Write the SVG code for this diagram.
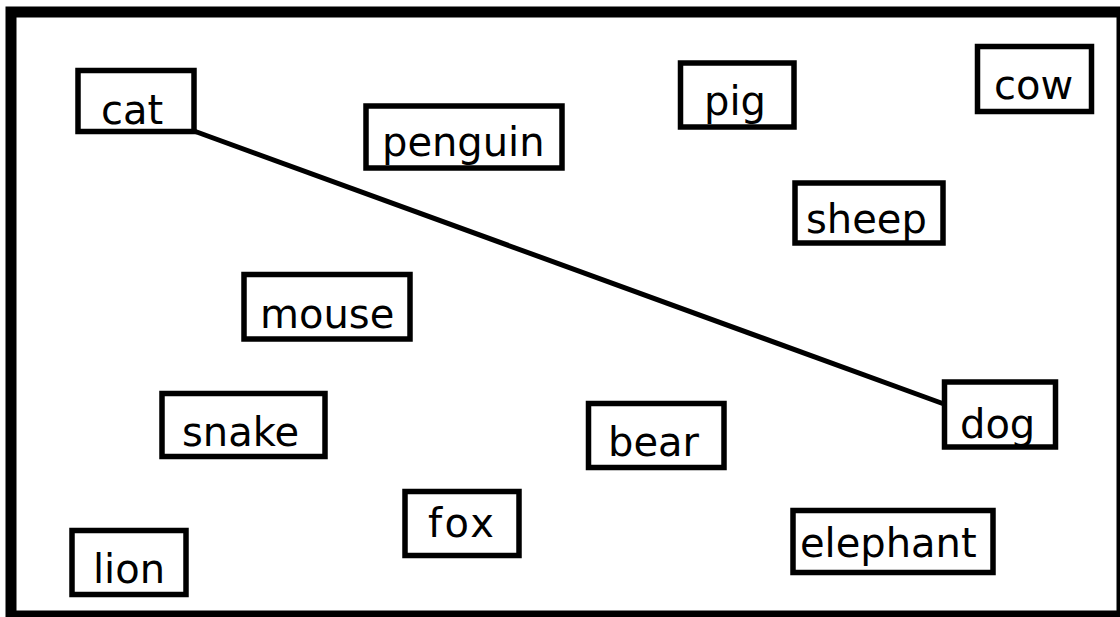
<svg xmlns="http://www.w3.org/2000/svg" width="1120" height="617" viewBox="0 0 1120 617">
  <style>
    .box { fill: #ffffff; stroke: #000000; stroke-width: 5.5; }
    .lbl { font-family: "DejaVu Sans", "Liberation Sans", sans-serif; font-size: 40px; fill: #000000; }
    .edge { stroke: #000000; stroke-width: 5; fill: none; }
  </style>
  <rect x="0" y="0" width="1120" height="617" fill="#ffffff"/>
  <rect id="frame" x="11" y="12" width="1111" height="604" fill="none" stroke="#000000" stroke-width="11"/>
  <g id="connectors">
    <line class="edge" x1="194" y1="131" x2="944" y2="404"/>
  </g>
  <g id="node-cat"><rect class="box" x="78" y="70.5" width="116" height="61"/><text class="lbl" x="101" y="124">cat</text></g>
  <g id="node-penguin"><rect class="box" x="366" y="106" width="196" height="62"/><text class="lbl" x="382" y="156">penguin</text></g>
  <g id="node-pig"><rect class="box" x="680.5" y="63" width="113.5" height="64"/><text class="lbl" x="704" y="115">pig</text></g>
  <g id="node-cow"><rect class="box" x="977.5" y="46.5" width="114" height="65"/><text class="lbl" x="994" y="99">cow</text></g>
  <g id="node-sheep"><rect class="box" x="795" y="183" width="148" height="60"/><text class="lbl" x="806" y="233">sheep</text></g>
  <g id="node-mouse"><rect class="box" x="244" y="274.5" width="166" height="64.5"/><text class="lbl" x="260" y="328">mouse</text></g>
  <g id="node-snake"><rect class="box" x="162" y="393.5" width="163" height="63"/><text class="lbl" x="182" y="446">snake</text></g>
  <g id="node-fox"><rect class="box" x="405" y="491.5" width="114" height="64"/><text class="lbl" x="428" y="537" textLength="66" lengthAdjust="spacing">fox</text></g>
  <g id="node-lion"><rect class="box" x="72" y="530.5" width="114" height="64"/><text class="lbl" x="93" y="583">lion</text></g>
  <g id="node-bear"><rect class="box" x="588.5" y="403.5" width="135.5" height="64"/><text class="lbl" x="608" y="456">bear</text></g>
  <g id="node-dog"><rect class="box" x="944.5" y="382" width="111" height="65"/><text class="lbl" x="960" y="438">dog</text></g>
  <g id="node-elephant"><rect class="box" x="793" y="510.5" width="200" height="62"/><text class="lbl" x="800" y="557">elephant</text></g>
</svg>
